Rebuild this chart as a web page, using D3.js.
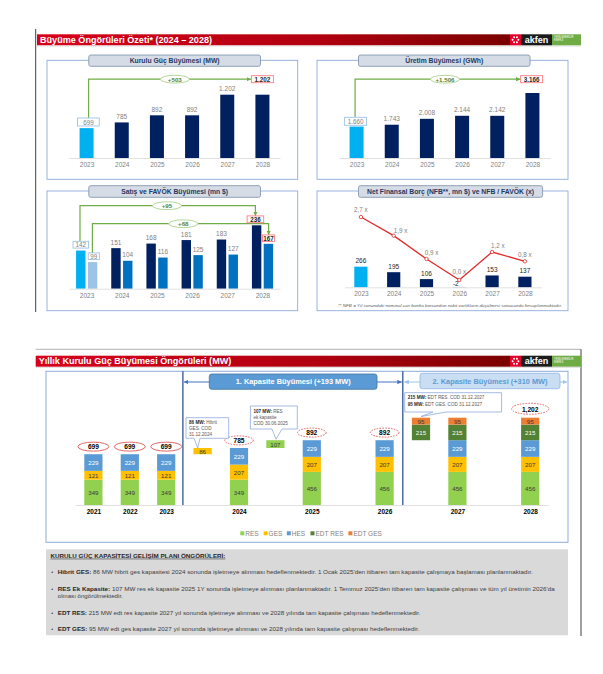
<!DOCTYPE html>
<html><head><meta charset="utf-8">
<script src="https://cdn.jsdelivr.net/npm/d3@7"></script>
<style>body{margin:0;background:#fff}svg{display:block}</style>
</head><body><script>
// ---------------- DATA ----------------
const yearsTop = ["2023","2024","2025","2026","2027","2028"];
const capacityMW = [699,785,892,892,1202,1202];
const capLabels = ["699","785","892","892","1.202","1.202"];
const productionGWh = [1660,1743,2008,2144,2142,3166];
const prodLabels = ["1.660","1.743","2.008","2.144","2.142","3.166"];
const salesMn = [142,151,168,181,183,236];
const favokMn = [99,104,116,125,127,167];
const nfbMn = [266,195,106,-2,153,137];
const nfbFavok = [2.7,1.9,0.9,0.0,1.2,0.8];
const ratioLabels = ["2,7 x","1,9 x","0,9 x","0,0 x","1,2 x","0,8 x"];
const growthLabels = {cap:"+503", prod:"+1.506", sales:"+95", favok:"+68"};

const yearsBottom = ["2021","2022","2023","2024","2025","2026","2027","2028"];
const seriesNames = ["RES","GES","HES","EDT RES","EDT GES"];
const resMW    = [349,349,349,349,456,456,456,456];
const gesMW    = [121,121,121,207,207,207,207,207];
const hesMW    = [229,229,229,229,229,229,229,229];
const edtResMW = [0,0,0,0,0,0,215,215];
const edtGesMW = [0,0,0,0,0,0,95,95];
const totalLabels = ["699","699","699","785","892","892",null,"1,202"];
const slots = ["2021","2022","2023","add1","2024","add2","2025","gapA","2026","add3","2027","gapB","2028"];
const addSlots = ["add1","add2","add3"];
const addAfterYear = ["2023","2024","2026"];
const addSegments = [[["GES",86]],[["RES",107]],[["EDT RES",215],["EDT GES",95]]];

const colors = {"RES":"#92d050","GES":"#ffc000","HES":"#5b9bd5","EDT RES":"#548235","EDT GES":"#ed7d31"};
const labelColors = {"RES":"#3a3a3a","GES":"#3a3a3a","HES":"#ffffff","EDT RES":"#ffffff","EDT GES":"#3a3a3a"};
const FONT = "'Liberation Sans', Arial, Helvetica, sans-serif";
const NAVY = "#002060", LBLUE = "#00b0f0", GREEN = "#70ad47";

// ---------------- SETUP ----------------
const svg = d3.select("body").append("svg").attr("width",603).attr("height",674).attr("font-family",FONT);
svg.append("rect").attr("width",603).attr("height",674).attr("fill","#fff");
const defs = svg.append("defs");
const gr = defs.append("linearGradient").attr("id","hdr").attr("x1","0").attr("x2","1");
gr.append("stop").attr("offset","0").attr("stop-color","#d8001a");
gr.append("stop").attr("offset","0.6").attr("stop-color","#b00010");
gr.append("stop").attr("offset","1").attr("stop-color","#7a0000");
function marker(id, color, size){
  defs.append("marker").attr("id",id).attr("markerUnits","userSpaceOnUse")
    .attr("markerWidth",size).attr("markerHeight",size).attr("refX",size).attr("refY",size/2)
    .attr("orient","auto-start-reverse")
    .append("path").attr("d",`M0,0L${size},${size/2}L0,${size}Z`).attr("fill",color);
}
marker("ga",GREEN,4.5); marker("ba","#4472c4",4.5); marker("lba","#9dc3e6",4.5);

function T(g,x,y,s,o={}){
  const t=g.append("text").attr("x",x).attr("y",y).attr("text-anchor",o.anchor||"middle")
    .attr("dominant-baseline","central").attr("font-size",o.size||6.5).attr("fill",o.fill||"#7f7f7f")
    .attr("font-weight",o.weight||"normal").text(s);
  if(o.len) t.attr("textLength",o.len).attr("lengthAdjust","spacingAndGlyphs");
  if(o.style) t.attr("font-style",o.style);
  return t;
}
function xAxis(scale,y,o={}){
  const g=svg.append("g").attr("transform",`translate(0,${y})`)
    .call(d3.axisBottom(scale).tickSize(0).tickSizeOuter(0).tickPadding(o.pad||4.5).tickFormat(o.fmt||(d=>d)));
  g.attr("font-family",null).attr("font-size",null);
  g.select(".domain").attr("stroke",o.line||"#d9d9d9").attr("stroke-width",0.8);
  g.selectAll("text").attr("font-size",o.size||6.5).attr("fill",o.color||"#7f7f7f")
    .attr("font-weight",o.weight||"normal").attr("font-family",FONT);
  return g;
}
function logo(y){
  const g=svg.append("g");
  g.append("rect").attr("x",510).attr("y",y).attr("width",11).attr("height",11).attr("fill","#e4002b");
  for(let i=0;i<6;i++){const a=i*Math.PI/3;
    g.append("circle").attr("cx",515.5+2.9*Math.cos(a)).attr("cy",y+5.5+2.9*Math.sin(a)).attr("r",1).attr("fill","#fff");}
  g.append("rect").attr("x",521).attr("y",y).attr("width",31).attr("height",11).attr("fill","#1b1b1b");
  T(g,536.5,y+5.3,"akfen",{fill:"#fff",size:9,weight:"bold"});
  g.append("rect").attr("x",552).attr("y",y).attr("width",29).attr("height",11).attr("fill","#6fac46");
  T(g,554,y+3.5,"YENİLENEBİLİR",{fill:"#fff",size:2.6,anchor:"start"});
  T(g,554,y+6.5,"ENERJİ",{fill:"#fff",size:2.6,anchor:"start"});
}
function header(x0,y0,title,len){
  svg.append("rect").attr("x",x0).attr("y",y0).attr("width",510-x0).attr("height",11).attr("fill","url(#hdr)");
  T(svg,x0+3,y0+5.6,title,{anchor:"start",fill:"#fff",size:9,weight:"bold",len:len});
  svg.append("line").attr("x1",36).attr("x2",581).attr("y1",y0+11.8).attr("y2",y0+11.8).attr("stroke","#d6d6d6").attr("stroke-width",0.7);
  logo(y0);
}
function panel(x0,y0,x1,y1,px0,px1,py0,py1,title,len){
  svg.append("rect").attr("x",x0).attr("y",y0).attr("width",x1-x0).attr("height",y1-y0)
    .attr("fill","none").attr("stroke","#8eaadb").attr("stroke-width",0.9);
  svg.append("rect").attr("x",px0).attr("y",py0).attr("width",px1-px0).attr("height",py1-py0).attr("rx",2)
    .attr("fill","#d6dce5").attr("stroke","#8497b0").attr("stroke-width",0.9);
  T(svg,(px0+px1)/2,(py0+py1)/2+0.3,title,{fill:"#1f3864",size:6.8,weight:"bold",len:len});
}
function box(cx,cy,w,h,label,kind){
  const red=kind==="red";
  svg.append("rect").attr("x",cx-w/2).attr("y",cy-h/2).attr("width",w).attr("height",h)
    .attr("fill","#fff").attr("stroke",red?"#ff7c80":"#9dc3e6").attr("stroke-width",0.9);
  T(svg,cx,cy+0.2,label,{fill:red?"#262626":"#7f7f7f",size:6.3,weight:red?"bold":"normal"});
}
function greenArrow(pts){
  svg.append("path").attr("d",d3.line()(pts)).attr("fill","none").attr("stroke",GREEN)
    .attr("stroke-width",1.2).attr("marker-end","url(#ga)");
}
function growth(cx,cy,label){
  svg.append("ellipse").attr("cx",cx).attr("cy",cy).attr("rx",14.5).attr("ry",3.9)
    .attr("fill","#fff").attr("stroke","#a9d18e").attr("stroke-width",0.9);
  T(svg,cx,cy+0.2,label,{fill:"#548235",size:6.2,weight:"bold"});
}

// ---------------- TOP SECTION ----------------
svg.append("line").attr("x1",35.7).attr("x2",35.7).attr("y1",29).attr("y2",312).attr("stroke","#404040").attr("stroke-width",1);
header(37,34.3,"Büyüme Öngörüleri Özeti* (2024 – 2028)",172);

// Panel 1: Kurulu Güç
panel(47,60.3,297.7,179.3,88.8,260.5,55,66.3,"Kurulu Güç Büyümesi (MW)",90);
const x1 = d3.scalePoint().domain(yearsTop).range([69,280]).padding(0.5);
const y1 = d3.scaleLinear().domain([250,1202]).range([158,94.7]);
svg.append("g").selectAll("rect").data(yearsTop).join("rect")
  .attr("x",d=>x1(d)-7).attr("width",14)
  .attr("y",(d,i)=>y1(capacityMW[i])).attr("height",(d,i)=>y1(250)-y1(capacityMW[i]))
  .attr("fill",(d,i)=>i===0?LBLUE:NAVY);
xAxis(x1,158);
yearsTop.forEach((d,i)=>{ if(i>0&&i<5) T(svg,x1(d),y1(capacityMW[i])-6.3,capLabels[i]); });
greenArrow([[x1("2023")+2,118],[x1("2023")+2,79.2],[251,79.2]]);
box(x1("2023")+1.8,122,21.7,8,capLabels[0],"blue");
box(x1("2028"),79.2,22,7,capLabels[5],"red");
growth(174.8,79.2,growthLabels.cap);

// Panel 2: Üretim
panel(317,60.3,568,179.3,358.5,530,55,66.3,"Üretim Büyümesi (GWh)",78);
const x2 = d3.scalePoint().domain(yearsTop).range([339,550]).padding(0.5);
const y2 = d3.scaleLinear().domain([250,3166]).range([158,93]);
svg.append("g").selectAll("rect").data(yearsTop).join("rect")
  .attr("x",d=>x2(d)-7).attr("width",14)
  .attr("y",(d,i)=>y2(productionGWh[i])).attr("height",(d,i)=>y2(250)-y2(productionGWh[i]))
  .attr("fill",(d,i)=>i===0?LBLUE:NAVY);
xAxis(x2,158);
yearsTop.forEach((d,i)=>{ if(i>0&&i<5) T(svg,x2(d),y2(productionGWh[i])-6.3,prodLabels[i]); });
greenArrow([[x2("2023")-1.5,117.3],[x2("2023")-1.5,79.2],[520.5,79.2]]);
box(x2("2023")-1,121.3,22,8,prodLabels[0],"blue");
box(x2("2028")-0.8,79.2,22,7,prodLabels[5],"red");
growth(445,79.2,growthLabels.prod);

// Panel 3: Satış ve FAVÖK
panel(47,191,297.7,310.7,88.8,260.5,185.7,197.3,"Satış ve FAVÖK Büyümesi (mn $)",107);
const x3 = d3.scalePoint().domain(yearsTop).range([69,280]).padding(0.5);
const y3 = d3.scaleLinear().domain([0,236]).range([288.7,225.3]);
const g3 = svg.append("g");
g3.selectAll(".s").data(yearsTop).join("rect").attr("class","s")
  .attr("x",d=>x3(d)-5.8-4.7).attr("width",9.4)
  .attr("y",(d,i)=>y3(salesMn[i])).attr("height",(d,i)=>y3(0)-y3(salesMn[i]))
  .attr("fill",(d,i)=>i===0?LBLUE:NAVY);
g3.selectAll(".f").data(yearsTop).join("rect").attr("class","f")
  .attr("x",d=>x3(d)+6-4.7).attr("width",9.4)
  .attr("y",(d,i)=>y3(favokMn[i])).attr("height",(d,i)=>y3(0)-y3(favokMn[i]))
  .attr("fill",(d,i)=>i===0?"#9dc3e6":"#0070c0");
xAxis(x3,288.7);
yearsTop.forEach((d,i)=>{ if(i>0&&i<5){
  T(svg,x3(d)-5.8,y3(salesMn[i])-6,String(salesMn[i]));
  T(svg,x3(d)+6,y3(favokMn[i])-6,String(favokMn[i])); }});
greenArrow([[x3("2023")-6.6,241.3],[x3("2023")-6.6,205.7],[x3("2028")-7,205.7],[x3("2028")-7,216]]);
greenArrow([[x3("2023")+5.8,253],[x3("2023")+5.8,223.7],[x3("2028")+6.2,223.7],[x3("2028")+6.2,235]]);
box(x3("2023")-5.8,244.7,15.5,6.8,String(salesMn[0]),"blue");
box(x3("2023")+7.2,256.2,11.2,6.6,String(favokMn[0]),"blue");
box(x3("2028")-7,219.3,16.6,6.8,String(salesMn[5]),"red");
box(x3("2028")+6,238.2,12,6.6,String(favokMn[5]),"red");
growth(167,205.7,growthLabels.sales);
growth(183.3,223.7,growthLabels.favok);

// Panel 4: Net Finansal Borç
panel(317,191,568,310.7,358.5,542.6,185.7,197.3,"Net Finansal Borç (NFB**, mn $) ve NFB / FAVÖK (x)",167);
const x4 = d3.scalePoint().domain(yearsTop).range([344.5,541.3]).padding(0.5);
const y4 = d3.scaleLinear().domain([0,266]).range([287.3,266.7]);
const y4r = d3.scaleLinear().domain([0,2.7]).range([280,217]);
svg.append("g").selectAll("rect").data(yearsTop).join("rect")
  .attr("x",d=>x4(d)-6.6).attr("width",13.2)
  .attr("y",(d,i)=>Math.min(y4(nfbMn[i]),y4(0))).attr("height",(d,i)=>Math.abs(y4(0)-y4(nfbMn[i])))
  .attr("fill",(d,i)=>i===0?LBLUE:NAVY);
xAxis(x4,287.3,{pad:4});
yearsTop.forEach((d,i)=>{
  if(nfbMn[i]>=0) T(svg,x4(d),y4(nfbMn[i])-6,String(nfbMn[i]),{fill:"#262626",size:6.5});
  else T(svg,x4(d)-3.5,283.6,String(nfbMn[i]),{fill:"#262626",size:6.5});
});
svg.append("path").datum(nfbFavok).attr("fill","none").attr("stroke","#e02b2b").attr("stroke-width",1.3)
  .attr("d",d3.line().x((d,i)=>x4(yearsTop[i])).y(d=>y4r(d)));
svg.append("g").selectAll("circle").data(nfbFavok).join("circle")
  .attr("cx",(d,i)=>x4(yearsTop[i])).attr("cy",d=>y4r(d)).attr("r",1.7)
  .attr("fill","#fff").attr("stroke","#e02b2b").attr("stroke-width",0.8);
const ratioOff = [[0,-7.3],[7,-5],[5,-7],[0,-8.3],[5.8,-6.6],[0,-7]];
nfbFavok.forEach((d,i)=>T(svg,x4(yearsTop[i])+ratioOff[i][0],y4r(d)+ratioOff[i][1],ratioLabels[i],{fill:"#7f7f7f",size:6.3}));
T(svg,338,305,"** NFB = Yıl sonundaki nominal cari banka borcundan nakit varlıkların düşülmesi sonucunda hesaplanmaktadır.",
  {anchor:"start",size:4.3,style:"italic",fill:"#595959",len:224});

// ---------------- BOTTOM SECTION ----------------
svg.append("line").attr("x1",35.7).attr("x2",581).attr("y1",349.3).attr("y2",349.3).attr("stroke","#a6a6a6").attr("stroke-width",0.9);
svg.append("line").attr("x1",581).attr("x2",581).attr("y1",349.3).attr("y2",636).attr("stroke","#404040").attr("stroke-width",1);
header(35.7,355.7,"Yıllık Kurulu Güç Büyümesi Öngörüleri (MW)",192.6);
svg.append("rect").attr("x",46).attr("y",371.3).attr("width",522).attr("height",171)
  .attr("fill","none").attr("stroke","#8eaadb").attr("stroke-width",1);

const xb = d3.scalePoint().domain(slots).range([75.2,548.4]).padding(0.5);
const step = xb.step();
const yb = d3.scaleLinear().domain([0,1202]).range([505,417.7]);
const rows = yearsBottom.map((y,i)=>({year:y,"RES":resMW[i],"GES":gesMW[i],"HES":hesMW[i],"EDT RES":edtResMW[i],"EDT GES":edtGesMW[i]}));
const totals = rows.map(r=>seriesNames.reduce((s,k)=>s+r[k],0));
const stacked = d3.stack().keys(seriesNames)(rows);
const BW = 18.2;

// dividers & capacity arrows
const div1 = xb("2023")+step/2-1.5, div2 = xb("2026")+step/2;
[div1,div2].forEach(x=>svg.append("line").attr("x1",x).attr("x2",x).attr("y1",371.3).attr("y2",505)
  .attr("stroke","#2f5597").attr("stroke-width",1.3));
svg.append("line").attr("x1",div1+1).attr("x2",div2-1).attr("y1",382).attr("y2",382).attr("stroke","#4472c4").attr("stroke-width",1)
  .attr("marker-start","url(#ba)").attr("marker-end","url(#ba)");
svg.append("line").attr("x1",div2+1.5).attr("x2",567).attr("y1",382).attr("y2",382).attr("stroke","#9dc3e6").attr("stroke-width",1)
  .attr("marker-start","url(#lba)").attr("marker-end","url(#lba)");
svg.append("rect").attr("x",209.3).attr("y",374).attr("width",167.7).attr("height",15.3).attr("rx",2.5)
  .attr("fill","#5b9bd5").attr("stroke","#41719c").attr("stroke-width",0.8);
T(svg,293.2,381.9,"1. Kapasite Büyümesi (+193 MW)",{fill:"#fff",size:7.6,weight:"bold",len:115});
svg.append("rect").attr("x",420).attr("y",373.3).attr("width",140).attr("height",15.4).attr("rx",2.5)
  .attr("fill","#c9def2").attr("stroke","#8fb4e3").attr("stroke-width",0.8);
T(svg,490,381.1,"2. Kapasite Büyümesi (+310 MW)",{fill:"#5b9bd5",size:7.6,weight:"bold",len:115});

// baseline & year axis
xAxis(xb,505,{fmt:d=>yearsBottom.includes(d)?d:"",color:"#000",weight:"bold",size:6.5,pad:4.2,line:"#d9d9d9"});

// stacks
const gb = svg.append("g");
stacked.forEach(layer=>{
  const k=layer.key;
  layer.forEach((seg,i)=>{
    const v=seg[1]-seg[0]; if(v<=0) return;
    const x=xb(yearsBottom[i]);
    gb.append("rect").attr("x",x-BW/2).attr("width",BW).attr("y",yb(seg[1])).attr("height",yb(seg[0])-yb(seg[1])).attr("fill",colors[k]);
    T(gb,x,(yb(seg[0])+yb(seg[1]))/2,String(v),{fill:labelColors[k],size:6.2});
  });
});
// floating additions
addSlots.forEach((s,j)=>{
  let base = totals[yearsBottom.indexOf(addAfterYear[j])];
  addSegments[j].forEach(([k,v])=>{
    const x=xb(s);
    gb.append("rect").attr("x",x-BW/2).attr("width",BW).attr("y",yb(base+v)).attr("height",yb(base)-yb(base+v)).attr("fill",colors[k]);
    T(gb,x,(yb(base)+yb(base+v))/2,String(v),{fill:labelColors[k],size:6.2});
    base+=v;
  });
});
// total ellipses
yearsBottom.forEach((y,i)=>{
  if(!totalLabels[i]) return;
  const big = totals[i]>1000, solid = i<3;
  const cy = yb(totals[i]) - (big?8.9:7.6);
  svg.append("ellipse").attr("cx",xb(y)).attr("cy",cy).attr("rx",big?18.6:(solid?15.5:14.3)).attr("ry",big?5.5:4.5)
    .attr("fill","#fff").attr("stroke","#e05555").attr("stroke-width",0.9)
    .attr("stroke-dasharray",solid?null:"1.6,1.2");
  T(svg,xb(y),cy+0.2,totalLabels[i],{fill:"#000",size:6.6,weight:"bold"});
});

// callouts
function callout(x0,y0,x1,y1,pa,pb,tip,lines,fs){
  const p=`M${x0},${y0}H${x1}V${y1}H${pb}L${tip[0]},${tip[1]}L${pa},${y1}H${x0}Z`;
  svg.append("path").attr("d",p).attr("fill","#fff").attr("stroke","#8faadc").attr("stroke-width",0.8);
  lines.forEach((ln,i)=>{
    const t=svg.append("text").attr("x",x0+3).attr("y",y0+4.5+i*ln.dy).attr("dominant-baseline","central")
      .attr("font-size",fs).attr("fill","#595959");
    if(ln.b) t.append("tspan").attr("font-weight","bold").attr("fill","#262626").text(ln.b);
    t.append("tspan").text(ln.t);
  });
}
callout(186,417.7,228.7,438.3,194,200,[197.7,448],[{b:"86 MW:",t:" Hibrit",dy:6},{t:"GES. COD",dy:6},{t:"31.12.2024",dy:6}],4.6);
callout(250.4,406,297.3,429,272,282,[276,439.3],[{b:"107 MW:",t:" RES",dy:6.3},{t:"ek kapasite",dy:6.3},{t:"COD 30.06.2025",dy:6.3}],4.6);
callout(404.7,392.7,501.6,412,433,446,[421,416.5],[{b:"215 MW:",t:" EDT RES. COD 31.12.2027",dy:6.4},{b:"95 MW:",t:" EDT GES. COD 31.12.2027",dy:6.4}],4.6);

// legend
const legX = [240.3,263.6,286.8,310.5,348.4];
seriesNames.forEach((k,i)=>{
  svg.append("rect").attr("x",legX[i]).attr("y",531.3).attr("width",4).attr("height",4).attr("fill",colors[k]);
  T(svg,legX[i]+5,533.5,k,{anchor:"start",fill:"#7f7f7f",size:6.5});
});

// notes box
svg.append("rect").attr("x",46).attr("y",549.3).attr("width",522).attr("height",86).attr("fill","#d9d9d9");
T(svg,50.4,555.7,"KURULU GÜÇ KAPASİTESİ GELİŞİM PLANI ÖNGÖRÜLERİ:",{anchor:"start",fill:"#262626",size:5.4,weight:"bold",len:175})
  .attr("text-decoration","underline");
const notes = [
  {y:572.3,b:"Hibrit GES:",t:"  86 MW hibrit ges kapasitesi 2024 sonunda işletmeye alınması hedeflenmektedir. 1 Ocak 2025'den itibaren tam kapasite çalışmaya başlaması planlanmaktadır.",len:475},
  {y:588.7,b:"RES Ek Kapasite:",t:"  107 MW res ek kapasite 2025 1Y sonunda işletmeye alınması planlanmaktadır. 1 Temmuz 2025'den itibaren tam kapasite çalışması ve tüm yıl üretimin 2026'da",len:497},
  {y:613,b:"EDT RES:",t:" 215 MW edt res kapasite 2027 yıl sonunda işletmeye alınması ve 2028 yılında tam kapasite çalışması hedeflenmektedir.",len:362.7},
  {y:629,b:"EDT GES:",t:" 95 MW edt ges kapasite 2027 yıl sonunda işletmeye alınması ve 2028 yılında tam kapasite çalışması hedeflenmektedir.",len:361.6}
];
notes.forEach(n=>{
  T(svg,51.2,n.y,"•",{anchor:"start",fill:"#404040",size:5.4});
  const t=svg.append("text").attr("x",57.8).attr("y",n.y).attr("dominant-baseline","central").attr("font-size",5.4).attr("fill","#404040")
    .attr("textLength",n.len).attr("lengthAdjust","spacingAndGlyphs");
  t.append("tspan").attr("font-weight","bold").attr("fill","#262626").text(n.b);
  t.append("tspan").text(n.t);
});
T(svg,57.8,596.3,"olması öngörülmektedir.",{anchor:"start",fill:"#404040",size:5.4,len:65});
</script></body></html>
